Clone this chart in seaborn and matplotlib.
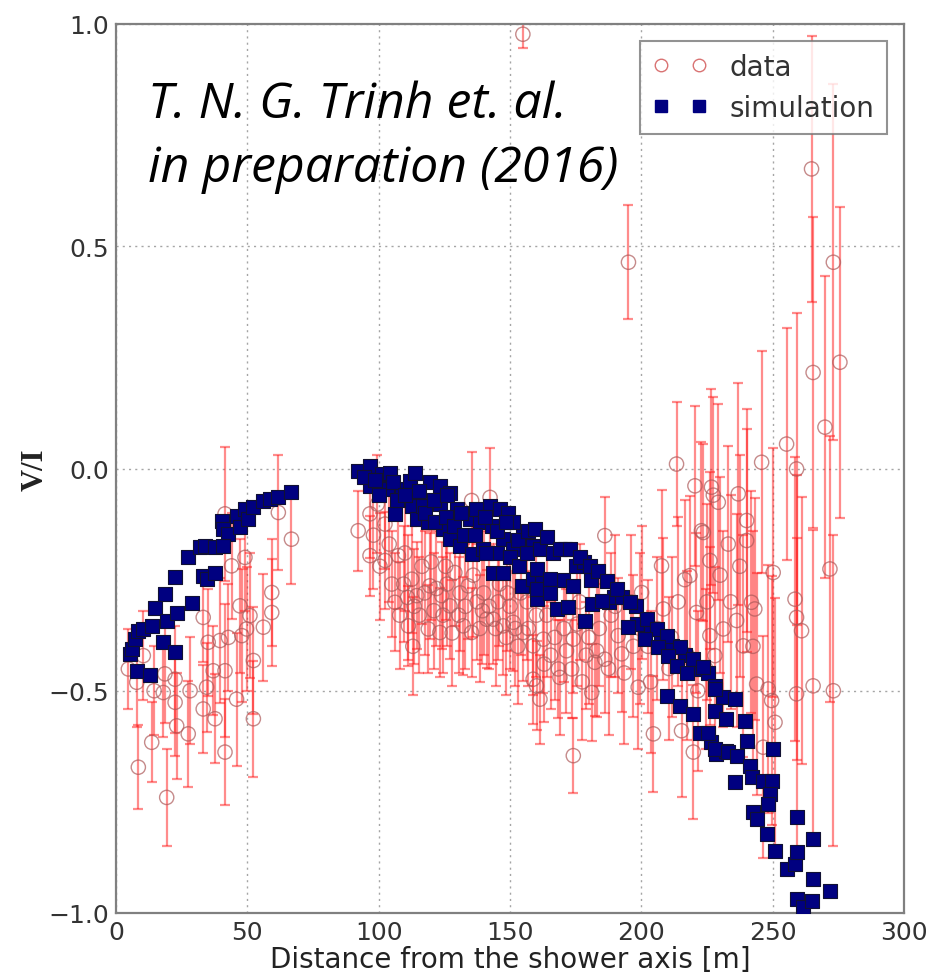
import matplotlib
matplotlib.use("Agg")
import matplotlib.pyplot as plt
from matplotlib.lines import Line2D
import numpy as np
import pandas as pd
import seaborn as sns

# ---------------- data ----------------
data_x = [4.7, 7.9, 8.5, 10.4, 13.6, 14.5, 18.6, 18.0, 19.3, 22.5, 22.5, 23.1, 27.5, 28.2,
          33.2, 33.2, 34.5, 35.1, 37.0, 37.7, 39.6, 41.5, 41.5, 42.8, 41.5, 44.0, 45.9, 47.2,
          49.1, 47.9, 49.7, 51.0, 52.3, 52.3, 56.1, 59.3, 59.3, 61.8, 66.8,
          92.2, 96.7, 96.7, 99.5, 102.4, 102.4, 106.2, 107.5, 109.5, 111.3, 112.6, 113.5, 114.5,
          116.5, 118.9, 119.5, 121.0, 123.3, 124.0, 125.5, 127.1, 129.0, 130.5, 132.2, 134.1,
          135.4, 135.4, 137.5, 139.5, 141.1, 142.4, 143.6, 145.5, 147.4, 149.0, 151.2, 153.0,
          155.0, 156.5, 158.8, 158.8,
          98.0, 100.5, 104.0, 105.0, 108.0, 110.0, 111.0, 113.0, 115.5, 117.5, 120.0, 122.0,
          124.5, 126.0, 128.0, 131.0, 133.0, 136.0, 138.5, 140.0, 142.0, 144.5, 146.0, 148.5,
          150.0, 152.0, 154.0, 157.0, 160.0, 163.0, 164.0, 167.0, 169.0, 171.5, 175.5, 177.5,
          180.0, 183.0, 187.5, 190.0, 193.5, 197.0, 199.5, 203.5, 211.5, 214.0, 217.5, 221.5,
          225.0, 230.0, 234.0, 237.5, 242.5,
          160.1, 161.4, 162.7, 165.5, 168.4, 170.5, 173.5, 174.1, 174.1, 176.5, 179.0, 181.1,
          182.3, 184.0, 186.1, 186.1, 188.5, 191.2, 192.5, 195.1, 196.0, 198.8, 200.1, 202.5,
          204.6, 206.0, 207.7, 208.4, 210.5, 213.4, 215.3, 216.5, 218.5, 219.8, 220.4, 221.0,
          222.9, 223.6, 224.5, 226.1, 226.1, 226.7, 227.4, 228.0, 229.3, 231.2, 233.1, 236.3,
          236.9, 238.8, 240.1, 240.1, 241.9, 243.2, 243.9, 245.8, 246.4, 248.3, 249.6, 250.2,
          250.9, 255.3, 258.5, 259.1, 259.1, 259.1, 261.0, 264.8, 265.4, 265.4, 269.9, 271.8,
          273.1, 273.1, 275.6, 154.9]
data_y = [-0.451, -0.481, -0.672, -0.421, -0.616, -0.50, -0.462, -0.504, -0.740, -0.474, -0.526,
          -0.579, -0.597, -0.500, -0.541, -0.335, -0.492, -0.391, -0.455, -0.563, -0.387, -0.455,
          -0.638, -0.380, -0.102, -0.219, -0.519, -0.309, -0.200, -0.376, -0.361, -0.331, -0.432,
          -0.563, -0.357, -0.279, -0.324, -0.099, -0.159,
          -0.140, -0.102, -0.196, -0.080, -0.125, -0.207, -0.301, -0.196, -0.260, -0.354, -0.249,
          -0.310, -0.286, -0.220, -0.361, -0.264, -0.320, -0.369, -0.286, -0.220, -0.309, -0.234,
          -0.330, -0.354, -0.264, -0.072, -0.369, -0.300, -0.320, -0.339, -0.065, -0.339, -0.300,
          -0.354, -0.280, -0.346, -0.400, -0.369, -0.300, -0.474, -0.399,
          -0.15, -0.22, -0.17, -0.26, -0.33, -0.19, -0.29, -0.40, -0.33, -0.28, -0.21, -0.27,
          -0.33, -0.26, -0.37, -0.28, -0.31, -0.24, -0.36, -0.28, -0.31, -0.36, -0.26, -0.38,
          -0.31, -0.36, -0.28, -0.36, -0.33, -0.44, -0.33, -0.38, -0.47, -0.41, -0.35, -0.48,
          -0.38, -0.41, -0.45, -0.31, -0.46, -0.40, -0.36, -0.48, -0.38, -0.30, -0.42, -0.50,
          -0.30, -0.24, -0.30, -0.22, -0.40,
          -0.489, -0.519, -0.384, -0.420, -0.451, -0.360, -0.451, -0.384, -0.646, -0.300, -0.420,
          -0.504, -0.436, -0.360, -0.151, -0.429, -0.330, -0.376, -0.417, 0.464, -0.300, -0.492,
          -0.279, -0.400, -0.597, -0.360, -0.219, -0.316, -0.450, 0.010, -0.590, -0.250, -0.241,
          -0.638, -0.039, -0.324, -0.140, -0.144, -0.450, -0.207, -0.376, -0.042, -0.060, -0.421,
          -0.076, -0.361, -0.170, -0.342, -0.057, -0.399, -0.117, -0.162, -0.301, -0.316, -0.485,
          0.014, -0.627, -0.496, -0.522, -0.234, -0.571, 0.055, -0.294, -0.001, -0.335, -0.507,
          -0.365, 0.674, 0.216, -0.489, 0.093, -0.226, 0.464, -0.500, 0.239, 0.977]
data_err = [0.09, 0.10, 0.095, 0.10, 0.09, 0.10, 0.11, 0.10, 0.11, 0.12, 0.12, 0.12, 0.12, 0.12,
            0.10, 0.10, 0.10, 0.12, 0.10, 0.10, 0.14, 0.15, 0.12, 0.12, 0.15, 0.12, 0.15, 0.15,
            0.12, 0.15, 0.14, 0.14, 0.12, 0.13, 0.12, 0.12, 0.12, 0.13, 0.10,
            0.09, 0.10, 0.09, 0.11, 0.10, 0.11, 0.11, 0.12, 0.13, 0.09, 0.12, 0.13, 0.12,
            0.13, 0.10, 0.12, 0.13, 0.10, 0.12, 0.12, 0.12, 0.12, 0.13, 0.11, 0.12,
            0.11, 0.10, 0.13, 0.12, 0.11, 0.11, 0.10, 0.13, 0.11, 0.13, 0.11, 0.13,
            0.11, 0.13, 0.10, 0.11,
            0.12, 0.12, 0.13, 0.12, 0.12, 0.13, 0.14, 0.11, 0.13, 0.14, 0.13, 0.13,
            0.13, 0.14, 0.12, 0.13, 0.14, 0.14, 0.12, 0.14, 0.14, 0.13, 0.14, 0.13,
            0.14, 0.13, 0.14, 0.13, 0.14, 0.13, 0.14, 0.14, 0.13, 0.14, 0.14, 0.13,
            0.15, 0.15, 0.15, 0.16, 0.16, 0.16, 0.17, 0.16, 0.18, 0.19, 0.19, 0.18,
            0.22, 0.22, 0.24, 0.25, 0.26,
            0.10, 0.10, 0.12, 0.12, 0.11, 0.12, 0.11, 0.12, 0.085, 0.13, 0.12, 0.11,
            0.12, 0.13, 0.088, 0.12, 0.14, 0.13, 0.13, 0.128, 0.15, 0.14, 0.15, 0.15,
            0.13, 0.16, 0.17, 0.16, 0.16, 0.14, 0.15, 0.18, 0.18, 0.15, 0.18, 0.18,
            0.20, 0.20, 0.18, 0.20, 0.20, 0.22, 0.22, 0.20, 0.22, 0.22, 0.22, 0.24,
            0.25, 0.25, 0.25, 0.25, 0.25, 0.25, 0.25, 0.25, 0.25, 0.28, 0.28, 0.28,
            0.28, 0.26, 0.32, 0.35, 0.32, 0.35, 0.30, 0.30, 0.35, 0.35, 0.34, 0.30,
            0.40, 0.35, 0.35, 0.03]

sim_x = [5.3, 6.0, 7.2, 8.5, 10.4, 13.6, 14.8, 18.6, 22.5, 27.5, 32.0, 33.9, 37.7, 40.2, 40.8,
         42.8, 40.8, 45.9, 47.2, 49.1, 50.4, 52.3, 56.1, 58.6, 61.8, 66.8,
         7.9, 12.9, 18.0, 22.5, 19.3, 23.1, 28.8, 33.2, 34.5, 37.7,
         92.2, 96.7, 96.7, 101.1, 104.3, 103.0, 106.2, 108.8, 111.9, 113.8, 112.6, 114.5, 118.9,
         119.5, 123.3, 127.1, 123.3, 124.6, 129.7, 127.1, 130.9, 134.8, 135.4, 138.6, 142.4,
         143.0, 143.6, 146.2, 149.3, 147.4, 147.4, 151.2, 151.2, 155.0, 154.4, 158.8, 158.8,
         160.1, 144.9, 139.8, 117.0,
         94.5, 98.5, 100.0, 105.5, 107.0, 110.0, 115.5, 117.5, 121.0, 121.5, 125.5, 126.0,
         128.5, 131.5, 132.5, 136.5, 137.0, 140.5, 141.0, 145.0, 148.5, 150.0, 153.0, 153.5,
         156.5, 157.0, 161.5, 162.0, 166.5, 170.0, 171.0, 175.0, 178.0, 181.0, 187.5, 189.5,
         192.5, 198.0, 198.5, 203.5, 207.5, 211.5, 216.5, 221.0, 225.5,
         159.5, 163.9, 169.0, 172.8, 176.6, 180.4, 183.6, 186.8, 190.6, 195.7, 202.0, 205.8,
         209.6, 214.7, 219.8, 223.6, 228.0, 231.2,
         160.1, 160.1, 165.2, 165.2, 167.8, 172.2, 174.1, 178.5, 181.1, 184.9, 195.0, 201.4,
         206.4, 210.2, 213.4, 217.2, 209.6, 214.7, 219.8, 222.3, 226.7, 228.6, 232.4,
         228.0, 235.6, 228.0, 232.4, 239.4, 225.5, 228.0, 233.0, 236.3, 240.1, 241.4, 235.6,
         242.0, 246.4, 249.6, 250.2, 248.9, 248.3, 242.6, 243.9, 247.7, 250.9, 255.3, 258.5,
         259.1, 259.1, 265.4, 265.4, 271.8, 259.1, 261.6, 264.8]
sim_y = [-0.417, -0.406, -0.384, -0.365, -0.361, -0.354, -0.314, -0.282, -0.244, -0.199, -0.177,
         -0.174, -0.177, -0.117, -0.136, -0.147, -0.174, -0.106, -0.132, -0.091, -0.114, -0.087,
         -0.072, -0.069, -0.065, -0.052,
         -0.455, -0.465, -0.390, -0.412, -0.342, -0.324, -0.303, -0.241, -0.249, -0.234,
         -0.005, 0.006, -0.039, -0.012, -0.009, -0.046, -0.102, -0.046, -0.027, -0.009, -0.084,
         -0.114, -0.121, -0.031, -0.039, -0.054, -0.080, -0.136, -0.091, -0.159, -0.174, -0.114,
         -0.192, -0.121, -0.084, -0.129, -0.234, -0.091, -0.099, -0.159, -0.234, -0.121, -0.181,
         -0.151, -0.264, -0.174, -0.249, -0.294, -0.189, -0.181, -0.084,
         -0.02, -0.025, -0.06, -0.03, -0.07, -0.06, -0.05, -0.10, -0.07, -0.12, -0.11, -0.06,
         -0.13, -0.10, -0.15, -0.15, -0.09, -0.11, -0.19, -0.14, -0.12, -0.20, -0.16, -0.22,
         -0.19, -0.14, -0.18, -0.25, -0.19, -0.25, -0.18, -0.22, -0.21, -0.25, -0.30, -0.29,
         -0.29, -0.31, -0.35, -0.36, -0.38, -0.40, -0.42, -0.45, -0.46,
         -0.136, -0.155, -0.181, -0.181, -0.200, -0.219, -0.230, -0.252, -0.271, -0.301, -0.339,
         -0.361, -0.376, -0.402, -0.429, -0.447, -0.489, -0.515,
         -0.226, -0.271, -0.249, -0.279, -0.316, -0.312, -0.264, -0.342, -0.305, -0.297, -0.357,
         -0.384, -0.402, -0.421, -0.444, -0.459, -0.511, -0.534, -0.552, -0.594, -0.616, -0.642,
         -0.635,
         -0.496, -0.519, -0.545, -0.564, -0.567, -0.594, -0.631, -0.638, -0.646, -0.612, -0.669,
         -0.706, -0.695, -0.702, -0.702, -0.631, -0.732, -0.755, -0.773, -0.789, -0.822, -0.860,
         -0.901, -0.890, -0.863, -0.785, -0.834, -0.924, -0.950, -0.969, -0.987, -0.972]

x_ticks = [0, 50, 100, 150, 200, 250, 300]
y_ticks = [-1.0, -0.5, 0.0, 0.5, 1.0]
x_label = "Distance from the shower axis [m]"
y_label = "V/I"
legend_labels = ["data", "simulation"]
note_lines = ["T. N. G. Trinh et. al.", "in preparation (2016)"]

# ---------------- styling ----------------
sns.set_style("white")
plt.rcParams["font.family"] = ["DejaVu Sans"]

W, H = 931, 979
fig = plt.figure(figsize=(W / 100, H / 100), dpi=100)
ax = fig.add_axes([116 / W, 1 - 914 / H, (904 - 116) / W, (914 - 25) / H])

df_data = pd.DataFrame({"x": data_x, "y": data_y, "err": data_err})
df_sim = pd.DataFrame({"x": sim_x, "y": sim_y})

ax.errorbar(df_data["x"], df_data["y"], yerr=df_data["err"], fmt="none",
            ecolor=(1.0, 0.1, 0.1), alpha=0.5, elinewidth=1.6, capsize=3.5,
            capthick=1.6, zorder=2)
sns.scatterplot(data=df_data, x="x", y="y", ax=ax, marker="o", s=105,
                facecolor="none", edgecolor=(0.68, 0.35, 0.35, 0.7),
                linewidth=1.0, zorder=3, legend=False)
sns.scatterplot(data=df_sim, x="x", y="y", ax=ax, marker="s", s=115,
                color="#000080", edgecolor="#111133", linewidth=0.8,
                zorder=4, legend=False)

ax.set_xlim(0, 300)
ax.set_ylim(-1.0, 1.0)
ax.set_xticks(x_ticks)
ax.set_yticks(y_ticks)
ax.set_xticklabels([str(t) for t in x_ticks])
ax.set_yticklabels([f"{t:.1f}".replace("-", "\u2212") for t in y_ticks])
ax.grid(True, linestyle=(0, (1.5, 3)), color="#a5a5a5", linewidth=1.0, zorder=0)
ax.set_axisbelow(True)
for sp in ax.spines.values():
    sp.set_color("#808080")
    sp.set_linewidth(1.6)
ax.tick_params(direction="in", length=7, width=1.2, color="#808080",
               labelsize=18, labelcolor="#333333", pad=5)

ax.set_xlabel(x_label, fontsize=20, color="#222222")
ax.set_ylabel(y_label, fontsize=22, fontweight="bold",
              fontfamily=["Liberation Serif", "DejaVu Serif"], color="#222222")
ax.xaxis.set_label_coords(0.5, (914 - 946) / 889)
ax.yaxis.set_label_coords((50 - 116) / 788, 0.5)

handles = [
    Line2D([], [], marker="o", linestyle="none", markerfacecolor="none",
           markeredgecolor=(0.85, 0.45, 0.45), markersize=9, markeredgewidth=1.0),
    Line2D([], [], marker="s", linestyle="none", markerfacecolor="#000080",
           markeredgecolor="#000080", markersize=8),
]
leg = ax.legend(handles, legend_labels, loc="upper right", numpoints=2,
                fontsize=20, frameon=True, fancybox=False, borderaxespad=0.6,
                handlelength=2.0, labelspacing=0.45, borderpad=0.45)
leg.get_frame().set_edgecolor("#777777")
leg.get_frame().set_linewidth(1.5)
for t in leg.get_texts():
    t.set_color("#333333")
leg.set_zorder(10)

fig.text(148 / W, 1 - 118 / H, note_lines[0], fontsize=36, style="italic",
         family=["Open Sans", "DejaVu Sans"], color="black", va="baseline", ha="left")
fig.text(148 / W, 1 - 182 / H, note_lines[1], fontsize=36, style="italic",
         family=["Open Sans", "DejaVu Sans"], color="black", va="baseline", ha="left")

fig.savefig("out.png", dpi=100)
